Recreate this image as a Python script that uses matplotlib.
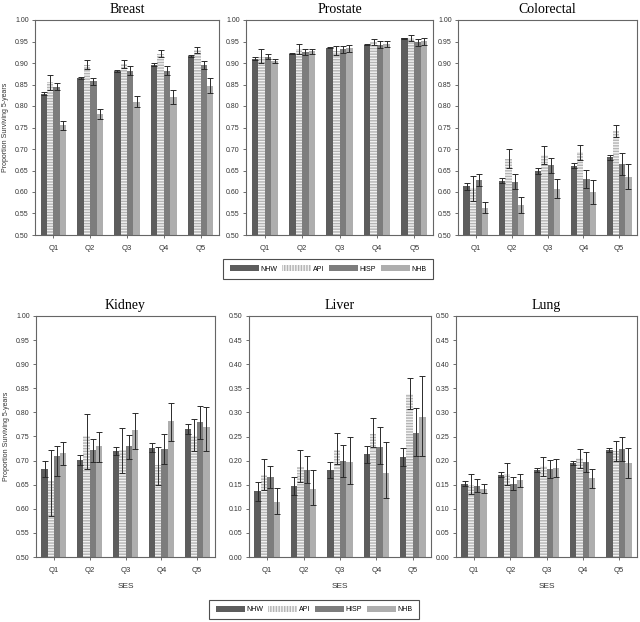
import matplotlib
matplotlib.use("Agg")
import matplotlib.pyplot as plt
from matplotlib.patches import Patch
import numpy as np

quintiles = ["Q1", "Q2", "Q3", "Q4", "Q5"]
groups = ["NHW", "API", "HISP", "NHB"]

# value, lower, upper  per group (rows) x quintile (cols)
breast_val = [[0.829, 0.865, 0.881, 0.896, 0.916],
              [0.855, 0.895, 0.897, 0.922, 0.930],
              [0.845, 0.858, 0.882, 0.881, 0.895],
              [0.755, 0.781, 0.810, 0.821, 0.847]]
breast_lo = [[0.826, 0.862, 0.879, 0.893, 0.914],
             [0.838, 0.885, 0.888, 0.915, 0.924],
             [0.838, 0.850, 0.873, 0.872, 0.886],
             [0.745, 0.770, 0.798, 0.805, 0.830]]
breast_hi = [[0.832, 0.868, 0.883, 0.899, 0.918],
             [0.873, 0.906, 0.907, 0.930, 0.937],
             [0.853, 0.866, 0.892, 0.892, 0.905],
             [0.766, 0.793, 0.824, 0.838, 0.866]]

prostate_val = [[0.910, 0.922, 0.936, 0.943, 0.957],
                [0.915, 0.932, 0.928, 0.948, 0.958],
                [0.915, 0.925, 0.932, 0.943, 0.948],
                [0.904, 0.927, 0.934, 0.945, 0.951]]
prostate_lo = [[0.907, 0.920, 0.934, 0.941, 0.955],
               [0.900, 0.922, 0.918, 0.941, 0.951],
               [0.909, 0.918, 0.924, 0.936, 0.940],
               [0.899, 0.920, 0.926, 0.938, 0.943]]
prostate_hi = [[0.913, 0.924, 0.938, 0.945, 0.959],
               [0.932, 0.944, 0.940, 0.955, 0.965],
               [0.922, 0.932, 0.940, 0.951, 0.955],
               [0.910, 0.933, 0.942, 0.952, 0.958]]

colorectal_val = [[0.613, 0.626, 0.648, 0.661, 0.681],
                  [0.610, 0.677, 0.686, 0.692, 0.741],
                  [0.628, 0.624, 0.663, 0.631, 0.665],
                  [0.563, 0.569, 0.607, 0.600, 0.636]]
colorectal_lo = [[0.605, 0.620, 0.642, 0.655, 0.675],
                 [0.580, 0.655, 0.665, 0.674, 0.727],
                 [0.615, 0.608, 0.645, 0.610, 0.640],
                 [0.550, 0.552, 0.585, 0.573, 0.607]]
colorectal_hi = [[0.622, 0.632, 0.655, 0.668, 0.687],
                 [0.637, 0.700, 0.707, 0.710, 0.755],
                 [0.642, 0.641, 0.680, 0.652, 0.690],
                 [0.577, 0.589, 0.630, 0.627, 0.666]]

kidney_val = [[0.683, 0.701, 0.720, 0.727, 0.766],
              [0.658, 0.752, 0.722, 0.691, 0.752],
              [0.709, 0.721, 0.730, 0.725, 0.781],
              [0.715, 0.730, 0.764, 0.783, 0.769]]
kidney_lo = [[0.666, 0.690, 0.712, 0.717, 0.756],
             [0.586, 0.682, 0.675, 0.650, 0.720],
             [0.669, 0.698, 0.703, 0.692, 0.745],
             [0.690, 0.698, 0.725, 0.740, 0.720]]
kidney_hi = [[0.700, 0.712, 0.729, 0.737, 0.776],
             [0.721, 0.796, 0.767, 0.728, 0.786],
             [0.730, 0.745, 0.754, 0.755, 0.814],
             [0.738, 0.760, 0.798, 0.820, 0.812]]

liver_val = [[0.136, 0.147, 0.180, 0.213, 0.208],
             [0.170, 0.187, 0.223, 0.256, 0.339],
             [0.165, 0.181, 0.199, 0.229, 0.258],
             [0.114, 0.142, 0.197, 0.175, 0.290]]
liver_lo = [[0.116, 0.129, 0.164, 0.196, 0.189],
            [0.139, 0.155, 0.192, 0.228, 0.308],
            [0.143, 0.153, 0.167, 0.192, 0.210],
            [0.090, 0.107, 0.151, 0.122, 0.209]]
liver_hi = [[0.156, 0.166, 0.197, 0.231, 0.227],
            [0.203, 0.221, 0.258, 0.288, 0.371],
            [0.188, 0.209, 0.232, 0.269, 0.309],
            [0.143, 0.180, 0.249, 0.239, 0.376]]

lung_val = [[0.152, 0.171, 0.181, 0.195, 0.222],
            [0.150, 0.172, 0.188, 0.205, 0.220],
            [0.148, 0.152, 0.182, 0.197, 0.224],
            [0.141, 0.160, 0.184, 0.163, 0.194]]
lung_lo = [[0.147, 0.166, 0.177, 0.190, 0.217],
           [0.130, 0.150, 0.168, 0.185, 0.200],
           [0.135, 0.138, 0.163, 0.176, 0.200],
           [0.132, 0.146, 0.166, 0.143, 0.163]]
lung_hi = [[0.157, 0.176, 0.185, 0.200, 0.227],
           [0.173, 0.195, 0.208, 0.224, 0.240],
           [0.162, 0.167, 0.201, 0.218, 0.249],
           [0.151, 0.173, 0.203, 0.183, 0.226]]

panels = [
    ("Breast", breast_val, breast_lo, breast_hi, (0.5, 1.0)),
    ("Prostate", prostate_val, prostate_lo, prostate_hi, (0.5, 1.0)),
    ("Colorectal", colorectal_val, colorectal_lo, colorectal_hi, (0.5, 1.0)),
    ("Kidney", kidney_val, kidney_lo, kidney_hi, (0.5, 1.0)),
    ("Liver", liver_val, liver_lo, liver_hi, (0.0, 0.5)),
    ("Lung", lung_val, lung_lo, lung_hi, (0.0, 0.5)),
]

W, H = 640, 622
# axes boxes in pixels: left, right, top, bottom
boxes = [
    (35, 219, 20, 235), (246, 433, 20, 235), (458, 637, 20, 235),
    (36, 215, 316, 557), (249, 431, 316, 557), (456, 637, 316, 557),
]

face = ["#5d5d5d", "#f2f2f2", "#7d7d7d", "#aeaeae"]
edge = ["#5d5d5d", "#b4b4b4", "#7d7d7d", "#aeaeae"]
hatch = [None, "------", None, None]

sans = ["Liberation Sans", "DejaVu Sans"]
serif = ["Liberation Serif", "DejaVu Serif"]
plt.rcParams["hatch.linewidth"] = 1.0

fig = plt.figure(figsize=(W / 100, H / 100), dpi=100)
x = np.arange(len(quintiles))
bw = 0.175

for i, ((title, val, lo, hi, ylim), (l, r, t, b)) in enumerate(zip(panels, boxes)):
    ax = fig.add_axes([l / W, 1 - b / H, (r - l) / W, (b - t) / H])
    for g in range(4):
        v = np.array(val[g])
        err = np.array([v - np.array(lo[g]), np.array(hi[g]) - v])
        pos = x + (g - 1.5) * bw
        ax.bar(pos, v - ylim[0], bw, bottom=ylim[0], color=face[g], edgecolor=edge[g],
               hatch=hatch[g], linewidth=0, zorder=2)
        ax.errorbar(pos, v, yerr=err, fmt="none", ecolor="#2a2a2a", elinewidth=0.7,
                    capsize=2.2, capthick=0.7, zorder=3)
    ax.set_xlim(-0.5, 4.5)
    ax.set_ylim(*ylim)
    ax.set_yticks(np.round(np.arange(ylim[0], ylim[1] + 0.001, 0.05), 2))
    ax.set_yticklabels([f"{t:.2f}" for t in ax.get_yticks()], fontsize=5, family=sans,
                       color="#333333")
    ax.set_xticks(x)
    ax.set_xticklabels(quintiles, fontsize=5.5, family=sans, color="#333333")
    ax.tick_params(axis="both", direction="out", length=2.5, width=0.6, color="#555555", pad=2)
    ax.tick_params(axis="x", pad=5)
    for s in ax.spines.values():
        s.set_color("#666666")
        s.set_linewidth(0.8)
    ax.set_title(title, fontsize=10, family=serif, pad=5)
    if i in (0, 3):
        ax.set_ylabel("Proportion Surviving 5-years", fontsize=5, family=sans, color="#333333",
                      labelpad=4)
    if i >= 3:
        ax.set_xlabel("SES", fontsize=6, family=sans, color="#333333", labelpad=6)

leg_face = ["#5d5d5d", "#f2f2f2", "#7d7d7d", "#aeaeae"]
leg_edge = ["#5d5d5d", "#b4b4b4", "#7d7d7d", "#aeaeae"]
leg_hatch = [None, "||||||", None, None]
handles = [Patch(facecolor=leg_face[k], edgecolor=leg_edge[k], hatch=leg_hatch[k],
                 linewidth=0, label=groups[k]) for k in range(4)]

for cx, cy in [((247 + 409) / 2, (259 + 279) / 2), ((226 + 402) / 2, (599 + 620) / 2)]:
    leg = fig.legend(handles=handles, loc="center", bbox_to_anchor=(cx / W, 1 - cy / H),
                     ncol=4, frameon=True, fancybox=False, handlelength=4.2,
                     handleheight=0.9, handletextpad=0.2, columnspacing=0.7,
                     borderpad=0.9, prop={"family": sans, "size": 5})
    leg.get_frame().set_edgecolor("#222222")
    leg.get_frame().set_linewidth(0.8)

fig.savefig("out.png", dpi=100)
